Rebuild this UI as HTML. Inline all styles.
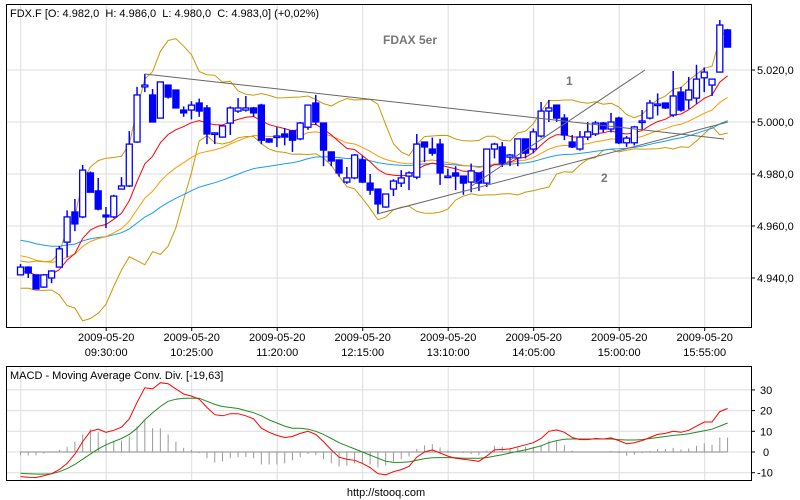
<!DOCTYPE html>
<html><head><meta charset="utf-8"><style>
html,body{margin:0;padding:0;background:#fff;}
svg{display:block;font-family:"Liberation Sans",sans-serif;}
</style></head><body>
<svg id="chart" width="800" height="500" viewBox="0 0 800 500" xmlns="http://www.w3.org/2000/svg">
<defs>
<clipPath id="mainClip"><rect x="6" y="4" width="745" height="323"/></clipPath>
<clipPath id="macdClip"><rect x="6" y="366" width="745" height="114"/></clipPath>
</defs>
<g id="mainGrid"></g>
<g id="macdGrid"></g>
<g id="mainInd" clip-path="url(#mainClip)"></g>
<g id="candles" clip-path="url(#mainClip)"></g>
<g id="trend" clip-path="url(#mainClip)"></g>
<g id="macdG" clip-path="url(#macdClip)"></g>
<rect x="6.5" y="4.5" width="745" height="323" fill="none" stroke="#000"/>
<rect x="6.5" y="366.5" width="745" height="114" fill="none" stroke="#000"/>
<text x="10" y="17" font-size="11" xml:space="preserve">FDX.F [O: 4.982,0  H: 4.986,0  L: 4.980,0  C: 4.983,0] (+0,02%)</text>
<text x="383" y="44" font-size="12" font-weight="bold" fill="#777">FDAX 5er</text>
<text x="566" y="85" font-size="12" font-weight="bold" fill="#777">1</text>
<text x="601" y="182" font-size="12" font-weight="bold" fill="#777">2</text>
<text x="10" y="379" font-size="11">MACD - Moving Average Conv. Div. [-19,63]</text>
<text x="386" y="496" font-size="11" text-anchor="middle">http://stooq.com</text>
<g id="axes"></g>
</svg>
<script>
const NS="http://www.w3.org/2000/svg";
const priceTicks=[4940,4960,4980,5000,5020];
const priceTickLabels=["4.940,0","4.960,0","4.980,0","5.000,0","5.020,0"];
const macdTicks=[-10,0,10,20,30];
const timeLabels=["09:30:00","10:25:00","11:20:00","12:15:00","13:10:00","14:05:00","15:00:00","15:55:00"];
const dateLabel="2009-05-20";
const O=[4941.2,4944.2,4941.2,4936.5,4940,4944.2,4953.8,4965.4,4963.5,4980.4,4973.5,4964.2,4963.5,4974.2,4975.4,4992.3,5013.5,5010.4,5001.5,5014.2,5012.3,5004.6,
5004.6,5007.3,5005.4,4995.4,4994.2,4999.6,5004.2,5004.6,5005.4,5006.5,4993.5,4994.6,4995.4,4996.5,4993.5,4998,5007.3,4999.6,4988.5,4985.4,4976.9,4978.5,4985.4,4976.5,
4974.2,4967.3,4974.2,4976.5,4979.2,4978.8,4992.3,4989.6,4991.5,4979.2,4980.4,4979.2,4976.9,4980.4,4976.5,4989.6,4990.4,4986.5,4986.2,4993.5,4989.6,4994.6,5004.2,
5006.5,5001.5,4992.3,4989.6,4994.2,4995.4,4999.6,4997.3,5001.5,4992,4992,5000.4,5001.5,5006.9,5007.3,5002.7,5011.5,5008.5,5009.2,5017,5014.2,5019.2,5035.4];
const H=[4945.4,4944.5,4941.2,4941.5,4943,4952.3,4966,4970.4,4983.5,4981,4978.5,4967.3,4972,4978.8,4996.5,5013.5,5018.5,5012.7,5015.4,5014.2,5012.3,5006,
5008,5009,5006.5,4996,4998.8,5006,5009.2,5010,5005.8,5007,4993.8,4998,4997.7,4997,5000,5006.5,5010.4,4999.6,4988.5,4985.4,4982.7,4987.7,4987,4980,
4974.2,4972.3,4978,4981.5,4981,4995.4,4992.3,4994,4993.5,4982,4983,4979.2,4984,4980.4,4989.6,4992,4992.3,4987.7,4993.5,4993.5,4997.5,5007.7,5008.5,
5006.5,5003,4995,4996.5,5000,5000.4,5000,5003.5,5002,4994.6,4998.5,5004.6,5008.5,5011,5007.3,5019.6,5013.5,5017.3,5022,5021,5016.5,5039.2,5035.8];
const L=[4941.2,4940,4935.8,4936.2,4938,4944,4948,4958,4963,4973,4966,4959.2,4963,4974,4975,4992,5011.5,5000,5001.5,5009,5005.4,5002,
5001,5002,4991.5,4991.5,4994,4995,5003.5,5004,5002,4991.5,4992,4990.4,4991,4988.5,4993,4997,4998.8,4983,4983,4979,4976.2,4978,4976.5,4972,
4964.6,4967,4971.5,4975,4973.8,4978,4984.6,4987,4975.8,4979,4973.8,4972,4973,4973.5,4975,4986,4982.7,4983,4983,4986,4988,4994,5000,
5000,4993,4990,4989,4993,4994.6,4996,4996,4991.5,4990.4,4991,4997,5001,5002.5,5005,5002,5004,5005,5007,5011.5,5010,5019,5028.8];
const C=[4944.2,4941.9,4935.8,4941.2,4942.7,4951.2,4963.5,4960.8,4981.5,4973,4966.5,4963.5,4971.5,4975.4,4991.5,5010.4,5014.2,5000,5015.4,5009.6,5005.4,5003.5,
5006.5,5004.2,4995.4,4995.8,4998.5,5005.4,5005.4,5005.4,5003.5,4993,4992.3,4994.6,4994.2,4993,4999.6,5006.5,5000,4989.2,4985,4980.4,4978.5,4987.3,4976.9,4973.8,
4968.5,4972.3,4977.3,4978.5,4980.4,4991.5,4990.4,4988,4980.4,4979.2,4979.2,4976.5,4981.2,4976.5,4989.6,4991.5,4984.2,4987.3,4993.5,4988,4996.2,5004.2,5005.4,
5001.5,4995,4990.4,4994.2,4996.2,4999.6,4997.3,5000,4992,4993.8,4998.1,5000.4,5007.3,5006.9,5005.4,5010,5004.6,5012.3,5016.5,5019.2,5016.5,5037.3,5028.8];
const priorCloses=[4944,4938,4943,4940,4945,4937,4942,4939,4941];
const macd=[-11.9,-12.2,-12.3,-11.5,-10.5,-8.5,-5.5,-1,5,10,11,9.5,10.5,12,16,24,31,30.5,33.5,33,30.5,28,27,25.5,21.5,18,17.5,18.5,18.5,17.5,16,11.5,9.5,8,7,7.5,9,10,8.5,5,1,-2.5,-3.5,-4,-5.5,-7.5,-10.5,-11,-9.5,-8.5,-7,-2.5,0,1,-0.5,-2,-3,-3.5,-4,-4.5,-2,1,1.2,1.5,2.5,3.5,4.5,6.5,10,10.7,9.5,7,6,6,6.5,6.3,6.8,5.5,4,4.5,5.5,7,8.5,9,10,9.5,10.5,12.5,14.5,14.5,19.5,21];
const signal=[-10.3,-10.5,-10.7,-10.7,-10.5,-9.5,-8,-6,-3.5,-1,1.5,3.5,5,6.5,8.5,11.5,15.5,19,22,24.5,25.5,26,26,26,24.5,23,22,21.5,21,20,19,17.5,15.5,14,12.5,11.5,11.5,11,10,8.5,6.5,4.5,3,1.5,0,-1.5,-3,-4.5,-5,-5,-4.8,-4,-3.2,-2.8,-2.7,-2.7,-2.8,-3,-3,-3,-2.7,-2,-1.3,-0.5,0.3,1,2,3,4.5,5.5,6.2,6.3,6.3,6.3,6.3,6.3,6.3,6,5.8,5.8,6,6.5,7,7.5,8,8.3,8.8,9.5,10.3,11,12.5,14];

const x0=20.5, step=7.77, bbN=10;
function xOf(i){return x0+i*step;}
function yP(p){return 122-(p-5000)*2.6;}
function yM(v){return 452-v*2.07;}
function el(tag,attrs,parent){const e=document.createElementNS(NS,tag);for(const k in attrs)e.setAttribute(k,attrs[k]);parent.appendChild(e);return e;}

const mainGrid=document.getElementById('mainGrid'),macdGrid=document.getElementById('macdGrid'),axes=document.getElementById('axes');
for(let k=0;k<9;k++){
  const gx=20.7+k*85.5;
  const g1=el('line',{x1:gx,x2:gx,y1:5,y2:327,stroke:'#ddd'},mainGrid);
  
  
  const g2=el('line',{x1:gx,x2:gx,y1:367,y2:480,stroke:'#ddd'},macdGrid);
  
  
  if(k>=1){
    const t1=el('text',{x:gx,y:341,'font-size':11,'text-anchor':'middle'},axes);t1.textContent=dateLabel;
    
    
    const t2=el('text',{x:gx,y:356,'font-size':11,'text-anchor':'middle'},axes);t2.textContent=timeLabels[k-1];
    
    
    el('line',{x1:gx,x2:gx,y1:327,y2:331,stroke:'#000'},axes);
  }
}
priceTicks.forEach((p,j)=>{
  const y=yP(p);
  const g=el('line',{x1:7,x2:751,y1:y,y2:y,stroke:'#ddd'},mainGrid);
  
  
  el('line',{x1:751,x2:755,y1:y,y2:y,stroke:'#000'},axes);
  const t=el('text',{x:757,y:y+4,'font-size':11},axes);t.textContent=priceTickLabels[j];
  
  
});
macdTicks.forEach(v=>{
  const y=yM(v);
  const g=el('line',{x1:7,x2:751,y1:y,y2:y,stroke:'#ddd'},macdGrid);
  
  
  el('line',{x1:751,x2:755,y1:y,y2:y,stroke:'#000'},axes);
  const t=el('text',{x:v<0?757:(v===0?763:760),y:y+4,'font-size':11},axes);t.textContent=String(v);
  
  
});

// indicators
function ema(arr,n,seed){const a=2/(n+1);let v=seed;return arr.map(c=>(v=v+a*(c-v)));}
const redMA=ema(C,10,4942), orangeMA=ema(C,21,4949), blueMA=ema(C,45,4955);
const all=priorCloses.concat(C), up=[], lo=[];
for(let i=0;i<C.length;i++){
  const w=all.slice(i,i+bbN);const m=w.reduce((a,b)=>a+b,0)/bbN;
  const sd=Math.sqrt(w.reduce((a,b)=>a+(b-m)*(b-m),0)/bbN);
  up.push(m+2*sd);lo.push(m-2*sd);
}
const ind=document.getElementById('mainInd');
function poly(vals,yf,color,name,parent,w){
  const p=el('polyline',{points:vals.map((v,i)=>xOf(i).toFixed(1)+','+yf(v).toFixed(1)).join(' '),fill:'none',stroke:color,'stroke-width':w||1},parent);
  
  
}
poly(up,yP,'#cc9900','bollinger-upper',ind);
poly(lo,yP,'#cc9900','bollinger-lower',ind);
poly(blueMA,yP,'#1a9cf0','moving-average-long',ind);
poly(orangeMA,yP,'#ff9900','moving-average-mid',ind);
poly(redMA,yP,'#ff0000','moving-average-short',ind);

// candles
const cg=document.getElementById('candles');
for(let i=0;i<C.length;i++){
  const x=xOf(i), upC=C[i]>=O[i];
  const g=el('g',{},cg);
  
  
  el('line',{x1:x,x2:x,y1:yP(H[i]),y2:yP(L[i]),stroke:'#0000ff','stroke-width':1.5},g);
  const top=yP(Math.max(O[i],C[i])), bot=yP(Math.min(O[i],C[i]));
  el('rect',{x:x-3,y:top,width:6,height:Math.max(bot-top,1.5),fill:upC?'#fff':'#0000ff',stroke:'#0000ff','stroke-width':1.3},g);
}

// trend lines
const tg=document.getElementById('trend');
[[144.7,74,724,139,'trendline-resistance'],[470,187,645,70,'trendline-1'],[377,214,728,122,'trendline-2']].forEach(t=>{
  const l=el('line',{x1:t[0],y1:t[1],x2:t[2],y2:t[3],stroke:'#666','stroke-width':1},tg);
  
  
});

// MACD
const mg=document.getElementById('macdG');
const zl=el('line',{x1:20,x2:xOf(C.length-1),y1:yM(0),y2:yM(0),stroke:'#888'},mg);


for(let i=0;i<macd.length;i++){
  const h=macd[i]-signal[i];
  const b=el('line',{x1:xOf(i),x2:xOf(i),y1:yM(0),y2:yM(h),stroke:'#999'},mg);
  
  
}
poly(signal,yM,'#228b22','macd-signal-line',mg);
poly(macd,yM,'#ff0000','macd-line',mg);
</script>
</body></html>
